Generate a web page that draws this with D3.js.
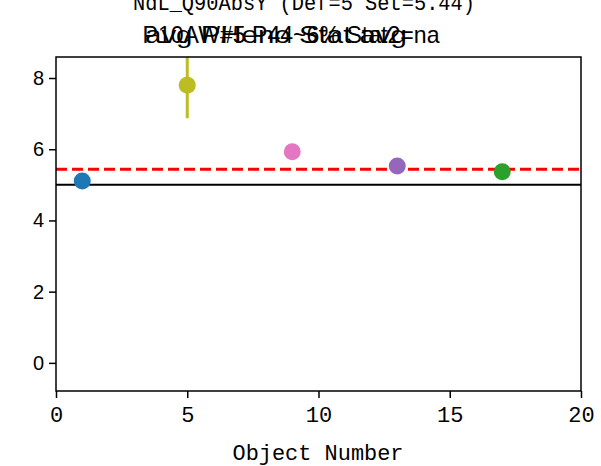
<!DOCTYPE html>
<html><head><meta charset="utf-8">
<script src="https://cdn.jsdelivr.net/npm/d3@7"></script>
<style>body{margin:0;background:#fff}</style>
</head><body>
<script>
const objectNumbers = [1, 5, 9, 13, 17];
const values = [5.11, 7.80, 5.93, 5.53, 5.37];
const errLow = [0, 0.93, 0, 0, 0];
const errHigh = [0, 0.93, 0, 0, 0];
const colors = ["#1f77b4", "#bcbd22", "#e377c2", "#9467bd", "#2ca02c"];
const xTicks = [0, 5, 10, 15, 20];
const yTicks = [0, 2, 4, 6, 8];
const defValue = 5;
const setValue = 5.44;
const titleTop = "NdL_Q90AbsY (Def=5 Set=5.44)";
const titleA = "P10AW#5 P44~6% Stat2=na";
const titleB = "avg PHeno Stat avg";

const W = 601, H = 466;
const m = {l: 56, r: 20, t: 57, b: 75};
const svg = d3.select("body").append("svg").attr("width", W).attr("height", H);
const x = d3.scaleLinear().domain([0, 20]).range([m.l, W - m.r]);
const y = d3.scaleLinear().domain([-0.79, 8.59]).range([H - m.b, m.t]);

svg.append("clipPath").attr("id", "clip").append("rect")
  .attr("x", m.l).attr("y", m.t).attr("width", W - m.r - m.l).attr("height", H - m.b - m.t);
const g = svg.append("g").attr("clip-path", "url(#clip)");

g.append("line").attr("x1", x(0)).attr("x2", x(20)).attr("y1", y(defValue)).attr("y2", y(defValue))
  .attr("stroke", "#000").attr("stroke-width", 2);
g.append("line").attr("x1", x(0)).attr("x2", x(20)).attr("y1", y(setValue)).attr("y2", y(setValue))
  .attr("stroke", "#ff0000").attr("stroke-width", 3).attr("stroke-dasharray", "11,5");

objectNumbers.forEach((n, i) => {
  if (errLow[i] || errHigh[i]) {
    g.append("line").attr("x1", x(n)).attr("x2", x(n))
      .attr("y1", y(values[i] - errLow[i])).attr("y2", y(values[i] + errHigh[i]))
      .attr("stroke", colors[i]).attr("stroke-width", 3);
  }
  g.append("circle").attr("cx", x(n)).attr("cy", y(values[i])).attr("r", 8.5).attr("fill", colors[i]);
});

svg.append("rect").attr("x", m.l).attr("y", m.t).attr("width", W - m.r - m.l).attr("height", H - m.b - m.t)
  .attr("fill", "none").attr("stroke", "#000").attr("stroke-width", 1.5);

const mono = "'Liberation Mono', 'DejaVu Sans Mono', monospace";
const xa = svg.append("g").attr("transform", `translate(0,${H - m.b})`)
  .call(d3.axisBottom(x).tickValues(xTicks).tickSize(7).tickPadding(8));
xa.select(".domain").remove();
xa.selectAll("line").attr("stroke-width", 1.5);
xa.selectAll("text").attr("font-family", mono).attr("font-size", 22).attr("fill", "#000")
  .attr("transform", "scale(1,1)");

const ya = svg.append("g").attr("transform", `translate(${m.l},0)`)
  .call(d3.axisLeft(y).tickValues(yTicks).tickSize(7).tickPadding(5));
ya.select(".domain").remove();
ya.selectAll("line").attr("stroke-width", 1.5);
ya.selectAll("text").attr("font-family", "'Liberation Sans', Arial, sans-serif").attr("font-size", 20).attr("fill", "#000");

svg.append("text").attr("x", x(10) - 0.5).attr("y", 460).attr("text-anchor", "middle")
  .attr("font-family", mono).attr("font-size", 22).attr("textLength", 171)
  .attr("lengthAdjust", "spacingAndGlyphs").text("Object Number");

svg.append("text").attr("x", 304).attr("y", 10).attr("text-anchor", "middle")
  .attr("font-family", mono).attr("font-size", 22).attr("textLength", 342)
  .attr("lengthAdjust", "spacingAndGlyphs").text(titleTop);
svg.append("text").attr("x", 291).attr("y", 43).attr("text-anchor", "middle")
  .attr("font-family", "'Liberation Sans Narrow', 'Liberation Sans', Arial, sans-serif").attr("font-size", 24)
  .attr("textLength", 297).attr("lengthAdjust", "spacingAndGlyphs").text(titleA);
svg.append("text").attr("x", 276).attr("y", 43).attr("text-anchor", "middle")
  .attr("font-family", "'Liberation Sans Narrow', 'Liberation Sans', Arial, sans-serif").attr("font-size", 24)
  .attr("textLength", 262).attr("lengthAdjust", "spacingAndGlyphs").text(titleB);
</script>
</body></html>
